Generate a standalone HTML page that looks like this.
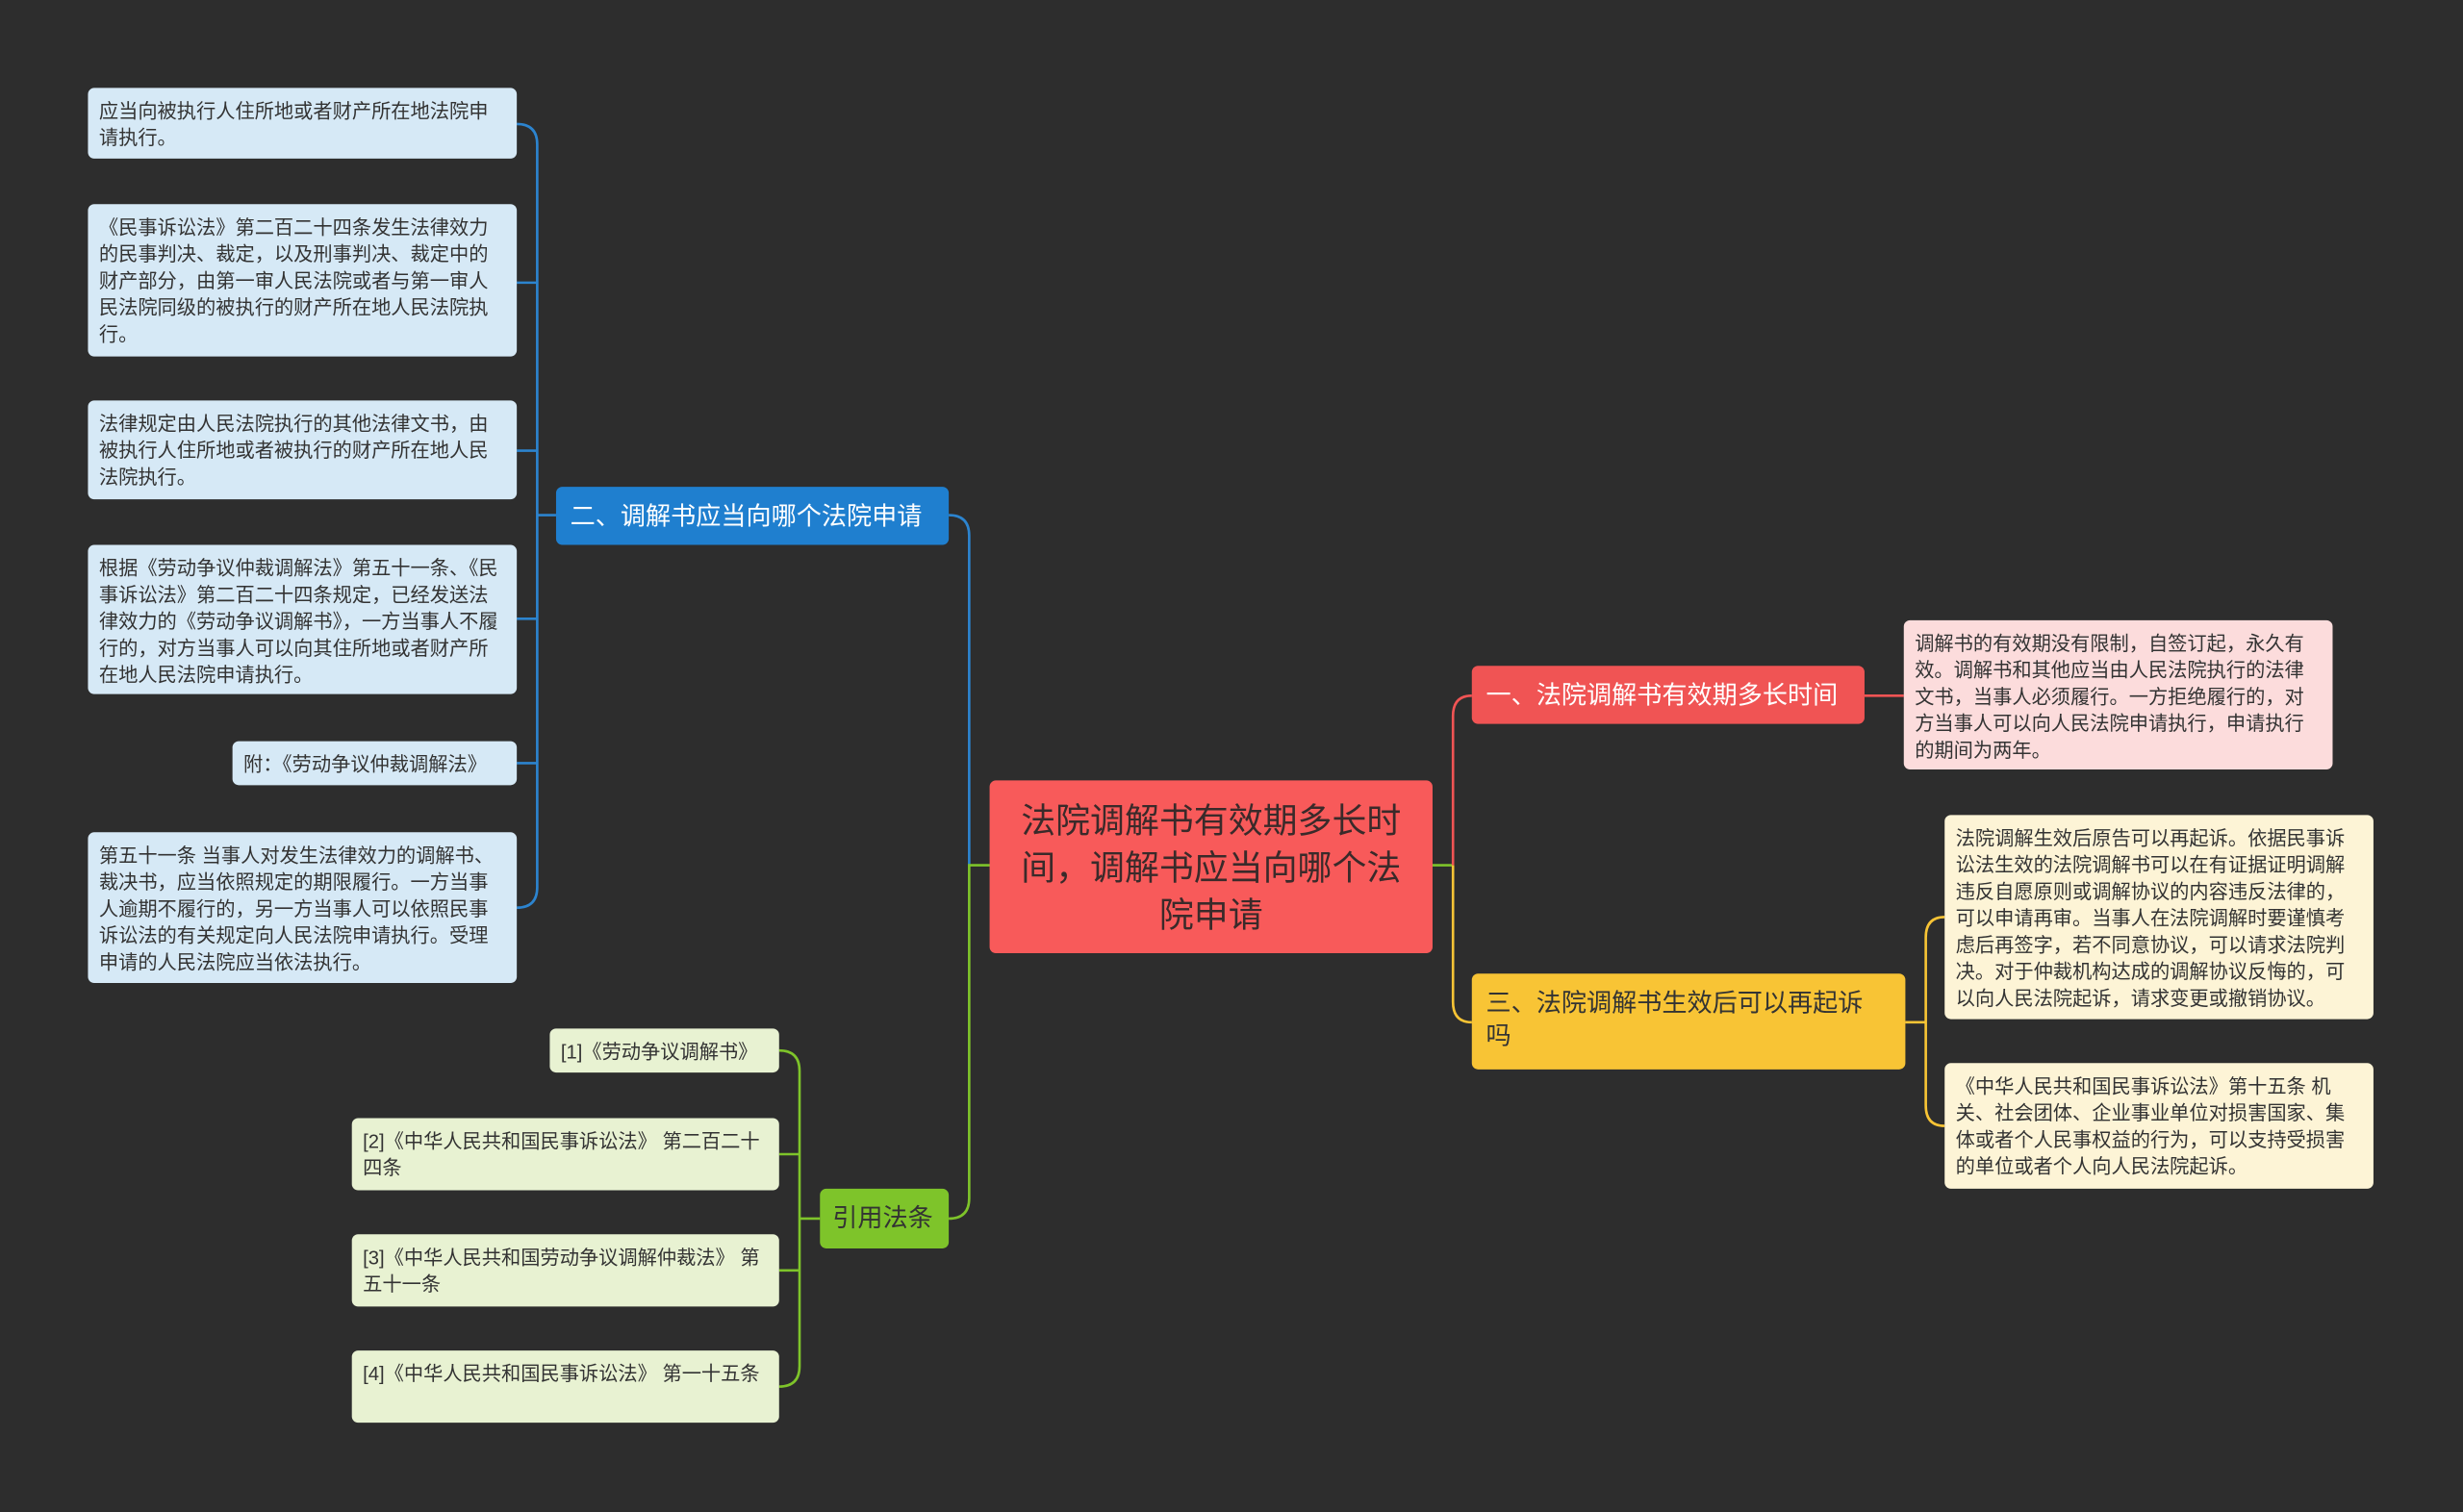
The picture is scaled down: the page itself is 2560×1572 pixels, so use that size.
<!DOCTYPE html>
<html><head><meta charset="utf-8"><style>
html,body{margin:0;padding:0;background:#2d2d2d;width:2560px;height:1572px;overflow:hidden}
#w{position:absolute;left:0;top:0;width:1568px;height:963px;transform:scale(1.63265);transform-origin:0 0;font-family:"Liberation Sans","Noto Sans CJK SC",sans-serif}
.b{position:absolute;box-sizing:border-box;border-radius:4px;color:#333;font-size:12.4px;line-height:17px;padding:7px 6px 5px 7px}
.lb{background:#d6e9f6}.lg{background:#e8f2d2}.lp{background:#fcdcdc}.ly{background:#fdf4d6}
.br{position:absolute;box-sizing:border-box;border-radius:4px;font-size:16px;line-height:21px;padding:9px 9px}
svg{position:absolute;left:0;top:0}
</style></head><body><div id="w">
<svg width="1568" height="963" fill="none" stroke-width="1.6">
<g stroke="#2c84cf">
<path d="M329 79 Q342 79 342 92 V565 Q342 578 329 578"/>
<path d="M329 180 H342 M329 287 H342 M329 394 H342 M329 486 H342 M342 328 H354"/>
<path d="M604 328 Q617 328 617 341 V551"/>
</g>
<g stroke="#7ec42a">
<path d="M496 669 Q509 669 509 682 V870 Q509 883 496 883"/>
<path d="M496 735 H509 M496 809 H509 M509 776 H522"/>
<path d="M604 776 Q617 776 617 763 V551 H925"/>
</g>
<path d="M925 551 V456 Q925 443 937 443 M1187 443 H1212" stroke="#f05454"/>
<path d="M925 551 V638 Q925 651 937 651 M1213 651 H1226 M1238 584 Q1226 584 1226 597 V704 Q1226 717 1238 717" stroke="#f8c435"/>
</svg>
<div class="b lb" style="left:56px;top:56px;width:273px;height:45px">应当向被执行人住所地或者财产所在地法院申请执行。</div>
<div class="b lb" style="left:56px;top:130px;width:273px;height:97px">《民事诉讼法》第二百二十四条发生法律效力的民事判决、裁定，以及刑事判决、裁定中的财产部分，由第一审人民法院或者与第一审人民法院同级的被执行的财产所在地人民法院执行。</div>
<div class="b lb" style="left:56px;top:255px;width:273px;height:63px">法律规定由人民法院执行的其他法律文书，由被执行人住所地或者被执行的财产所在地人民法院执行。</div>
<div class="b lb" style="left:56px;top:347px;width:273px;height:95px">根据《劳动争议仲裁调解法》第五十一条、《民事诉讼法》第二百二十四条规定，已经发送法律效力的《劳动争议调解书》，一方当事人不履行的，对方当事人可以向其住所地或者财产所在地人民法院申请执行。</div>
<div class="b lb" style="left:148px;top:472px;width:181px;height:28px">附：《劳动争议仲裁调解法》</div>
<div class="b lb" style="left:56px;top:530px;width:273px;height:96px">第五十一条 当事人对发生法律效力的调解书、裁决书，应当依照规定的期限履行。一方当事人逾期不履行的，另一方当事人可以依照民事诉讼法的有关规定向人民法院申请执行。受理申请的人民法院应当依法执行。</div>
<div class="br" style="left:354px;top:310px;width:250px;height:37px;background:#1f7fcf;color:#fff;white-space:nowrap">二、调解书应当向哪个法院申请</div>
<div class="b lg" style="left:350px;top:655px;width:146px;height:28px">[1]《劳动争议调解书》</div>
<div class="b lg" style="left:224px;top:712px;width:272px;height:46px">[2]《中华人民共和国民事诉讼法》 第二百二十四条</div>
<div class="b lg" style="left:224px;top:786px;width:272px;height:46px">[3]《中华人民共和国劳动争议调解仲裁法》 第五十一条</div>
<div class="b lg" style="left:224px;top:860px;width:272px;height:46px">[4]《中华人民共和国民事诉讼法》 第一十五条</div>
<div class="br" style="left:522px;top:757px;width:82px;height:38px;background:#7ec42a;color:#333;white-space:nowrap;padding:9px 8px">引用法条</div>
<div class="br" style="left:630px;top:497px;width:282px;height:110px;background:#f85a5a;color:#3a2a2a;font-size:22px;line-height:30px;text-align:center;padding:11px 12px">法院调解书有效期多长时间，调解书应当向哪个法院申请</div>
<div class="br" style="left:937px;top:424px;width:250px;height:37px;background:#f05454;color:#fff;white-space:nowrap">一、法院调解书有效期多长时间</div>
<div class="b lp" style="left:1212px;top:395px;width:273px;height:95px">调解书的有效期没有限制，自签订起，永久有效。调解书和其他应当由人民法院执行的法律文书，当事人必须履行。一方拒绝履行的，对方当事人可以向人民法院申请执行，申请执行的期间为两年。</div>
<div class="br" style="left:937px;top:620px;width:276px;height:61px;background:#f8c435;color:#333;padding:9px 14px 9px 9px">三、法院调解书生效后可以再起诉<br>吗</div>
<div class="b ly" style="left:1238px;top:519px;width:273px;height:130px">法院调解生效后原告可以再起诉。依据民事诉讼法生效的法院调解书可以在有证据证明调解违反自愿原则或调解协议的内容违反法律的，可以申请再审。当事人在法院调解时要谨慎考虑后再签字，若不同意协议，可以请求法院判决。对于仲裁机构达成的调解协议反悔的，可以向人民法院起诉，请求变更或撤销协议。</div>
<div class="b ly" style="left:1238px;top:677px;width:273px;height:80px">《中华人民共和国民事诉讼法》第十五条 机关、社会团体、企业事业单位对损害国家、集体或者个人民事权益的行为，可以支持受损害的单位或者个人向人民法院起诉。</div>
</div></body></html>
